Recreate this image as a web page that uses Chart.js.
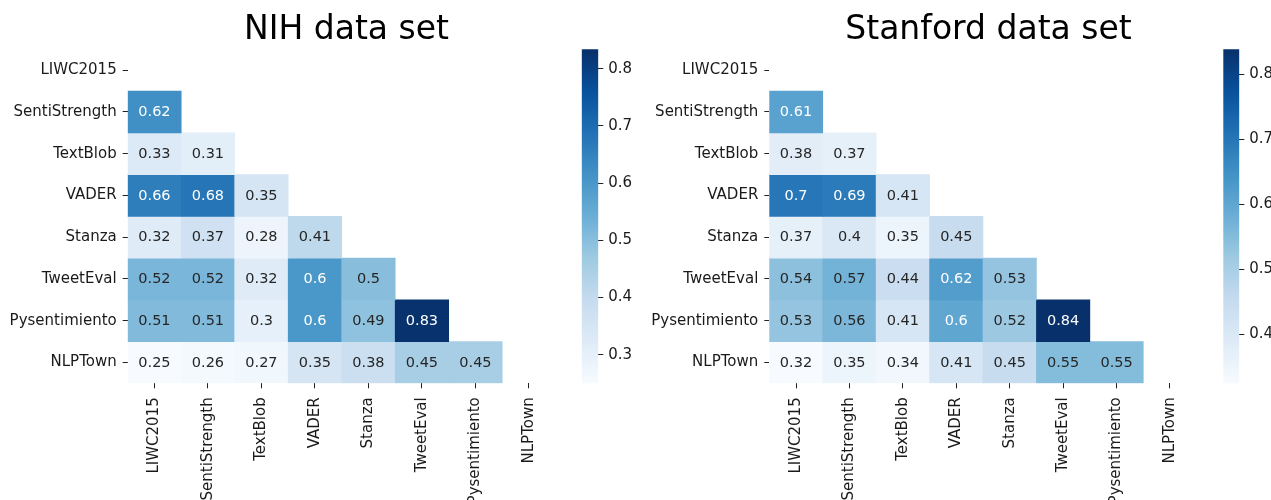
<!DOCTYPE html>
<html>
<head>
<meta charset="utf-8">
<script src="https://cdn.jsdelivr.net/npm/chart.js@4/dist/chart.umd.min.js"></script>
<style>
    html, body { margin: 0; padding: 0; background: #fff; overflow: hidden; width: 1271px; height: 500px; }
    .box { position: absolute; top: 0; }
    canvas { display: block; }
</style>
</head>
<body>
<div class="box" style="left:0px"><canvas id="nihHeat" width="693" height="500"></canvas></div>
<div class="box" style="left:640px"><canvas id="stanfordHeat" width="697" height="500"></canvas></div>
<div class="box" style="left:560px"><canvas id="nihBar" width="80" height="500"></canvas></div>
<div class="box" style="left:1200px"><canvas id="stanfordBar" width="71" height="500"></canvas></div>
<script>
// Tools compared (rows and columns of both matrices)
const methods = ['LIWC2015', 'SentiStrength', 'TextBlob', 'VADER', 'Stanza', 'TweetEval', 'Pysentimiento', 'NLPTown'];

// Lower triangle, row by row (row i has i values)
const nihValues = [
    [],
    [0.62],
    [0.33, 0.31],
    [0.66, 0.68, 0.35],
    [0.32, 0.37, 0.28, 0.41],
    [0.52, 0.52, 0.32, 0.6, 0.5],
    [0.51, 0.51, 0.3, 0.6, 0.49, 0.83],
    [0.25, 0.26, 0.27, 0.35, 0.38, 0.45, 0.45]
];
const stanfordValues = [
    [],
    [0.61],
    [0.38, 0.37],
    [0.7, 0.69, 0.41],
    [0.37, 0.4, 0.35, 0.45],
    [0.54, 0.57, 0.44, 0.62, 0.53],
    [0.53, 0.56, 0.41, 0.6, 0.52, 0.84],
    [0.32, 0.35, 0.34, 0.41, 0.45, 0.55, 0.55]
];

const nihRange = [0.25, 0.834];
const stanfordRange = [0.325, 0.838];
const nihBarTicks = [0.3, 0.4, 0.5, 0.6, 0.7, 0.8];
const stanfordBarTicks = [0.4, 0.5, 0.6, 0.7, 0.8];

// matplotlib "Blues"
const blues = ['#f7fbff', '#deebf7', '#c6dbef', '#9ecae1', '#6baed6', '#4292c6', '#2171b5', '#08519c', '#08306b'];
const FONT = 'DejaVu Sans';
const TICK_SIZE = 15;

function hexToRgb(h) {
    return [1, 3, 5].map(i => parseInt(h.slice(i, i + 2), 16));
}

// Interpolate the colormap at t in [0, 1]
function bluesAt(t) {
    t = Math.min(1, Math.max(0, t));
    const pos = t * (blues.length - 1);
    const i = Math.min(Math.floor(pos), blues.length - 2);
    const f = pos - i;
    const a = hexToRgb(blues[i]), b = hexToRgb(blues[i + 1]);
    return a.map((v, k) => Math.round(v + (b[k] - v) * f));
}

// Same rule seaborn uses to pick annotation colour
function luminance(rgb) {
    const lin = rgb.map(c => {
        c = c / 255;
        return c <= 0.03928 ? c / 12.92 : Math.pow((c + 0.055) / 1.055, 2.4);
    });
    return 0.2126 * lin[0] + 0.7152 * lin[1] + 0.0722 * lin[2];
}

// Draws the numbers inside each cell
const annotatePlugin = {
    id: 'annotate',
    afterDatasetsDraw(chart) {
        const ctx = chart.ctx;
        ctx.save();
        ctx.font = '14.5px "' + FONT + '"';
        ctx.textAlign = 'center';
        ctx.textBaseline = 'middle';
        chart.data.datasets.forEach((ds, di) => {
            const meta = chart.getDatasetMeta(di);
            meta.data.forEach((bar, j) => {
                const v = ds.cellValues[j];
                if (v === null || v === undefined) return;
                ctx.fillStyle = ds.textColors[j];
                ctx.fillText(String(v), bar.x, (bar.y + bar.base) / 2 + 0.5);
            });
        });
        ctx.restore();
    }
};

function createHeatmap(canvasId, title, values, range, yAxisWidth, rightGap) {
    const datasets = [];
    for (let i = 1; i < methods.length; i++) {
        const row = values[i];
        const colors = [], textColors = [], cellValues = [];
        const data = methods.map((m, j) => {
            if (j >= row.length) {
                colors.push('rgba(0,0,0,0)');
                textColors.push(null);
                cellValues.push(null);
                return null;
            }
            const rgb = bluesAt((row[j] - range[0]) / (range[1] - range[0]));
            colors.push('rgb(' + rgb.join(',') + ')');
            textColors.push(luminance(rgb) > 0.408 ? '#262626' : '#ffffff');
            cellValues.push(row[j]);
            return [i, i + 1]; // floating bar covering row i
        });
        datasets.push({
            data: data,
            backgroundColor: colors,
            borderWidth: 0,
            barPercentage: 1,
            categoryPercentage: 1,
            cellValues: cellValues,
            textColors: textColors
        });
    }

    return new Chart(document.getElementById(canvasId), {
        type: 'bar',
        data: { labels: methods, datasets: datasets },
        options: {
            responsive: false,
            animation: false,
            devicePixelRatio: 1,
            layout: { padding: 0 },
            plugins: {
                legend: { display: false },
                tooltip: { enabled: false },
                title: {
                    display: true,
                    text: title,
                    color: '#000',
                    font: { family: FONT, size: 33, weight: 'normal', lineHeight: 1 },
                    padding: { top: 13.7, bottom: 2.6 }
                }
            },
            scales: {
                x: {
                    stacked: true,
                    grid: { display: true, drawOnChartArea: false, offset: false, tickLength: 5, color: '#222', lineWidth: 1 },
                    border: { display: false },
                    ticks: {
                        autoSkip: false, maxRotation: 90, minRotation: 90, padding: 9,
                        color: '#1a1a1a', font: { family: FONT, size: TICK_SIZE }
                    },
                    afterFit(scale) { scale.height = 116.7; }
                },
                y: {
                    type: 'linear',
                    stacked: false,
                    min: 0,
                    max: methods.length,
                    reverse: true,
                    grid: { display: true, drawOnChartArea: false, tickLength: 5, color: '#222', lineWidth: 1 },
                    border: { display: false },
                    afterBuildTicks(scale) {
                        scale.ticks = methods.map((m, i) => ({ value: i + 0.5 }));
                    },
                    ticks: {
                        padding: 6,
                        color: '#1a1a1a',
                        font: { family: FONT, size: TICK_SIZE },
                        callback: (val, idx) => methods[idx]
                    },
                    afterFit(scale) { scale.width = yAxisWidth; }
                },
                // empty axis on the right, only reserves room for the colour bar
                gap: {
                    type: 'linear',
                    position: 'right',
                    grid: { display: false },
                    border: { display: false },
                    ticks: { display: false },
                    afterFit(scale) { scale.width = rightGap; }
                }
            }
        },
        plugins: [annotatePlugin]
    });
}

function createColorBar(canvasId, range, ticks, padLeft, axisWidth) {
    return new Chart(document.getElementById(canvasId), {
        type: 'bar',
        data: {
            labels: [''],
            datasets: [{
                data: [[range[0], range[1]]],
                borderWidth: 0,
                barPercentage: 1,
                categoryPercentage: 1,
                backgroundColor: (context) => {
                    const chart = context.chart;
                    if (!chart.chartArea) return null;
                    const y = chart.scales.y;
                    const grad = chart.ctx.createLinearGradient(0, y.getPixelForValue(range[0]), 0, y.getPixelForValue(range[1]));
                    blues.forEach((c, k) => grad.addColorStop(k / (blues.length - 1), c));
                    return grad;
                }
            }]
        },
        options: {
            responsive: false,
            animation: false,
            devicePixelRatio: 1,
            layout: { padding: { left: padLeft, right: 0, top: 49.3, bottom: 116.7 } },
            plugins: { legend: { display: false }, tooltip: { enabled: false } },
            scales: {
                x: { display: false },
                y: {
                    position: 'right',
                    min: range[0],
                    max: range[1],
                    grid: { display: true, drawOnChartArea: false, tickLength: 5, color: '#222', lineWidth: 1 },
                    border: { display: false },
                    afterBuildTicks(scale) {
                        scale.ticks = ticks.map(v => ({ value: v }));
                    },
                    ticks: {
                        padding: 5,
                        color: '#1a1a1a',
                        font: { family: FONT, size: TICK_SIZE },
                        callback: (val) => Number(val).toFixed(1)
                    },
                    afterFit(scale) { scale.width = axisWidth; }
                }
            }
        }
    });
}

// Build both panels
createHeatmap('nihHeat', 'NIH data set', nihValues, nihRange, 127.7, 137.3);
createHeatmap('stanfordHeat', 'Stanford data set', stanfordValues, stanfordRange, 129.3, 140.3);
createColorBar('nihBar', nihRange, nihBarTicks, 21.7, 41.7);
createColorBar('stanfordBar', stanfordRange, stanfordBarTicks, 23.3, 31.7);
</script>
</body>
</html>
